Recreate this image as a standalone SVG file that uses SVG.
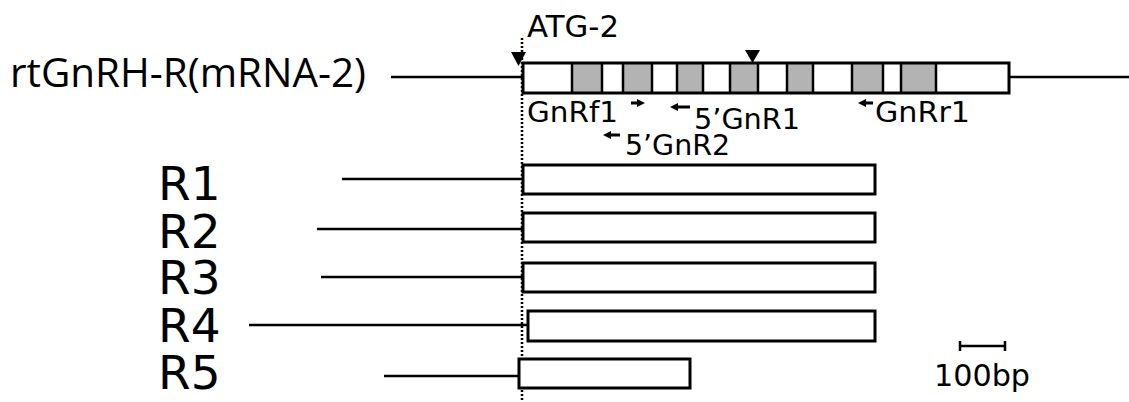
<svg xmlns="http://www.w3.org/2000/svg" width="1129" height="402" viewBox="0 0 1129 402">
<defs>
<style>
.t{font-family:"DejaVu Sans",Verdana,sans-serif;fill:#000}
.ti{font-family:"Open Sans","DejaVu Sans",sans-serif;fill:#000}
.ln{stroke:#000;stroke-width:2.5;fill:none}
.bx{stroke:#000;stroke-width:3;fill:#fff}
.seg{stroke:#000;stroke-width:2.5}
.w{fill:#fff}
.g{fill:#b3b3b3}
.dot{stroke:#000;stroke-width:2.5;stroke-dasharray:2 2;fill:none}
.ar{fill:#000}
</style>
</defs>
<rect width="1129" height="402" fill="#fff"/>

<g id="dotted-atg">
<line class="dot" x1="522" y1="38" x2="522" y2="402"/>
</g>

<g id="title">
<text class="ti" x="10" y="87" font-size="40" textLength="356" lengthAdjust="spacingAndGlyphs">rtGnRH-R(mRNA-2)</text>
</g>

<g id="atg2">
<text class="t" x="527" y="37" font-size="30" textLength="92" lengthAdjust="spacingAndGlyphs">ATG-2</text>
<path d="M511,52 L526,52 L518.5,66 z" fill="#000"/>
<path d="M745,50 L760,50 L752.5,63 z" fill="#000"/>
</g>

<g id="mrna">
<line class="ln" x1="391" y1="77" x2="523" y2="77"/>
<line class="ln" x1="1009" y1="77" x2="1129" y2="77"/>
<rect class="w" x="523" y="63" width="486" height="30"/>
<rect class="g" x="572" y="63" width="30" height="30"/>
<rect class="g" x="623" y="63" width="29" height="30"/>
<rect class="g" x="677" y="63" width="26" height="30"/>
<rect class="g" x="730" y="63" width="28" height="30"/>
<rect class="g" x="787" y="63" width="26" height="30"/>
<rect class="g" x="852" y="63" width="31" height="30"/>
<rect class="g" x="901" y="63" width="35" height="30"/>
<path class="seg" d="M572,63V93M602,63V93M623,63V93M652,63V93M677,63V93M703,63V93M730,63V93M758,63V93M787,63V93M813,63V93M852,63V93M883,63V93M901,63V93M936,63V93"/>
<rect x="523" y="63" width="486" height="30" fill="none" stroke="#000" stroke-width="3"/>
</g>

<g id="primers">
<text class="t" x="527" y="122" font-size="29" textLength="91" lengthAdjust="spacingAndGlyphs">GnRf1</text>
<path class="ar" d="M631,101.5 H637 V99 L645,103 L637,107 V104.5 H631 z"/>
<text class="t" x="694" y="129" font-size="29" textLength="106" lengthAdjust="spacingAndGlyphs">5’GnR1</text>
<path class="ar" d="M690,105.5 H678 V103 L670,107 L678,111 V108.5 H690 z"/>
<text class="t" x="625" y="155" font-size="29" textLength="105" lengthAdjust="spacingAndGlyphs">5’GnR2</text>
<path class="ar" d="M620,133.5 H611 V131 L603,135 L611,139 V136.5 H620 z"/>
<text class="t" x="875" y="122" font-size="29" textLength="95" lengthAdjust="spacingAndGlyphs">GnRr1</text>
<path class="ar" d="M873,101.5 H866 V99 L858,103 L866,107 V104.5 H873 z"/>
</g>

<g id="R1">
<text class="t" x="158" y="200" font-size="47">R1</text>
<line class="ln" x1="342" y1="179" x2="523" y2="179"/>
<rect class="bx" x="523" y="165" width="352" height="29"/>
</g>
<g id="R2">
<text class="t" x="158" y="248" font-size="47">R2</text>
<line class="ln" x1="317" y1="229" x2="523" y2="229"/>
<rect class="bx" x="523" y="213" width="352" height="29"/>
</g>
<g id="R3">
<text class="t" x="158" y="294" font-size="47">R3</text>
<line class="ln" x1="321" y1="277" x2="523" y2="277"/>
<rect class="bx" x="523" y="263" width="352" height="29"/>
</g>
<g id="R4">
<text class="t" x="158" y="342" font-size="47">R4</text>
<line class="ln" x1="249" y1="325" x2="528" y2="325"/>
<rect class="bx" x="528" y="311" width="347" height="30"/>
</g>
<g id="R5">
<text class="t" x="158" y="389" font-size="47">R5</text>
<line class="ln" x1="384" y1="376" x2="519" y2="376"/>
<rect class="bx" x="519" y="359" width="171" height="29"/>
</g>

<g id="scale">
<line class="ln" x1="960" y1="346" x2="1005" y2="346"/>
<line class="ln" x1="960" y1="341" x2="960" y2="351"/>
<line class="ln" x1="1005" y1="341" x2="1005" y2="351"/>
<text class="t" x="934" y="386" font-size="30" textLength="96" lengthAdjust="spacingAndGlyphs">100bp</text>
</g>
</svg>
